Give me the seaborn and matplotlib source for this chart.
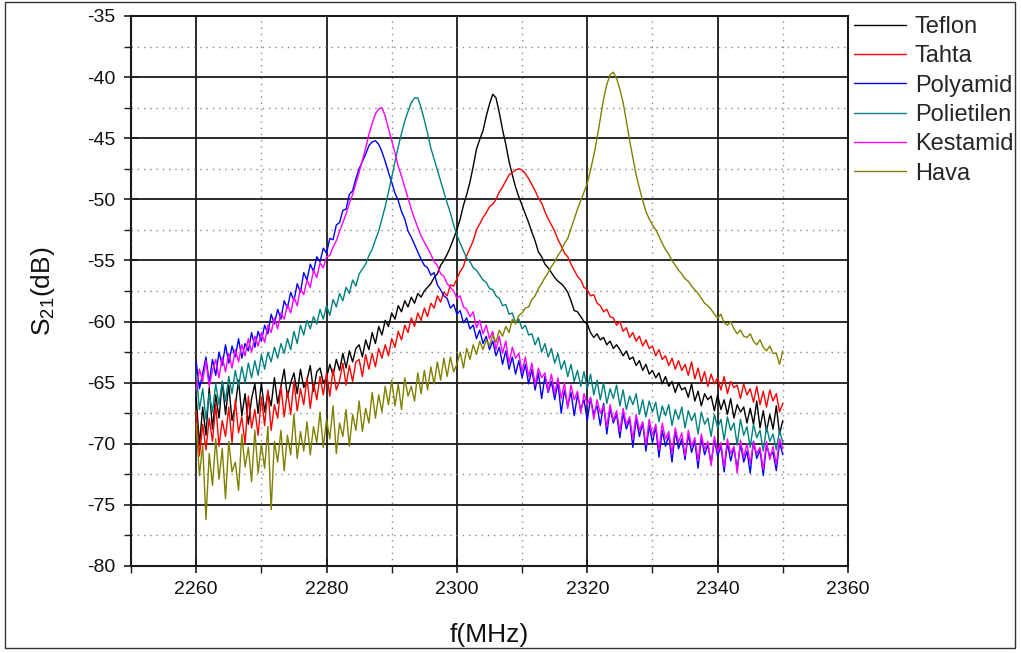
import numpy as np
import pandas as pd
import matplotlib
matplotlib.use("Agg")
import matplotlib.pyplot as plt
from matplotlib.patches import Rectangle
from matplotlib.ticker import MultipleLocator
import seaborn as sns

# ---------------- data ----------------
freq = np.arange(2260.0, 2350.01, 0.5)  # MHz, sampling grid

teflon = [
    -66.2, -70.1, -67.0, -69.3, -65.4, -68.8, -66.0, -67.9, -64.9, -67.6,
    -65.2, -68.1, -66.9, -64.8, -67.7, -65.9, -68.4, -66.3, -65.1, -67.5,
    -65.0, -67.4, -65.8, -66.9, -64.6, -66.7, -65.3, -63.9, -66.2, -65.0,
    -64.2, -65.9, -63.9, -65.4, -64.8, -63.6, -65.7, -64.1, -63.8, -65.0,
    -64.6, -63.5, -64.4, -63.1, -64.0, -62.6, -63.8, -62.4, -63.3, -62.2,
    -61.9, -62.9, -61.5, -62.3, -60.9, -61.8, -60.4, -61.1, -59.9, -60.4,
    -59.3, -59.8, -58.7, -59.2, -58.3, -58.8, -58.0, -58.5, -57.7, -58.0,
    -57.5, -57.2, -56.9, -56.4, -56.1, -55.4, -55.0, -54.5, -53.9, -53.2,
    -52.5, -51.6, -50.5, -49.6, -48.6, -47.3, -45.9, -45.1, -44.4, -43.2,
    -42.2, -41.4, -41.7, -42.9, -44.3, -45.5, -46.9, -48.0, -49.0, -49.8,
    -50.5, -51.2, -51.9, -52.7, -53.4, -54.3, -54.7, -55.3, -55.6, -56.0,
    -56.4, -56.7, -56.9, -57.2, -57.6, -58.3, -59.1, -59.2, -59.6, -60.0,
    -60.2, -60.9, -61.3, -61.0, -61.5, -61.3, -61.9, -61.6, -62.2, -61.9,
    -62.3, -62.8, -62.4, -63.1, -62.9, -63.6, -63.2, -64.0, -63.5, -64.3,
    -64.0, -64.6, -64.2, -65.1, -64.5, -65.3, -64.9, -65.8, -65.0, -65.6,
    -65.4, -66.2, -65.1, -66.5, -65.7, -66.9, -65.9, -66.4, -66.1, -67.3,
    -66.0, -67.2, -66.4, -67.6, -66.3, -67.9, -66.8, -67.4, -67.0, -68.3,
    -67.1, -68.4, -66.5, -68.7, -67.3, -69.0, -67.6, -68.8, -66.9, -69.2,
    -68.1,
]

tahta = [
    -67.3, -71.0, -68.4, -70.5, -67.9, -69.8, -66.8, -70.2, -68.1, -69.4,
    -67.0, -69.9, -66.4, -69.1, -67.8, -70.0, -66.1, -68.7, -67.2, -69.3,
    -66.2, -68.5, -65.6, -68.9, -66.8, -67.9, -65.3, -67.8, -65.7, -67.6,
    -64.9, -67.3, -65.5, -66.8, -64.6, -67.1, -65.0, -66.4, -64.5, -66.0,
    -64.2, -66.1, -63.9, -65.6, -64.8, -63.4, -65.2, -63.6, -64.9, -63.3,
    -63.1, -64.5, -62.7, -63.9, -62.6, -63.7, -62.2, -63.0, -61.9, -62.8,
    -61.4, -62.1, -60.8, -61.5, -60.3, -60.9, -59.7, -60.4, -59.3, -59.9,
    -58.9, -59.6, -58.5, -58.9, -57.9, -58.4, -57.6, -57.9, -57.0, -57.1,
    -56.5, -55.9, -55.5, -54.6, -54.0, -53.4, -52.5, -52.0, -51.5, -51.1,
    -50.6, -50.4, -50.0, -49.4, -49.0, -48.5, -48.0, -47.8, -47.6, -47.5,
    -47.6, -47.9, -48.3, -48.8, -49.3, -49.9, -50.3, -51.0, -51.6, -52.1,
    -52.6, -53.3, -53.8, -54.4, -54.7, -55.3, -55.8, -56.3, -56.6, -57.2,
    -57.4, -57.9, -57.8, -58.5, -58.7, -59.2, -59.0, -59.6, -59.7, -60.3,
    -60.0, -60.8, -60.5, -61.3, -60.9, -61.6, -61.2, -62.0, -61.5, -62.2,
    -62.0, -62.8, -62.3, -63.1, -62.8, -63.6, -63.0, -63.9, -63.2, -64.0,
    -63.5, -64.4, -63.3, -64.7, -63.8, -65.0, -64.1, -65.3, -64.3, -65.1,
    -64.6, -65.6, -64.5, -65.9, -64.9, -65.4, -65.2, -66.3, -65.1, -66.0,
    -65.5, -66.6, -65.3, -66.8, -65.7, -67.0, -65.6, -66.5, -65.9, -67.4,
    -66.7,
]

polyamid = [
    -63.3, -65.5, -64.2, -62.9, -65.0, -63.1, -64.4, -62.5, -63.6, -61.9,
    -63.4, -62.0, -62.9, -61.4, -63.0, -61.8, -62.4, -60.9, -62.1, -60.8,
    -61.6, -60.3, -61.0, -59.4, -60.2, -59.0, -59.8, -58.3, -58.9, -57.6,
    -58.3, -56.9, -57.6, -56.0, -56.6, -55.3, -55.9, -54.7, -55.1, -54.0,
    -54.4, -53.2, -53.3, -52.1, -51.9, -50.9, -50.8, -49.6, -49.3, -48.3,
    -47.5, -46.9, -46.3, -45.6, -45.3, -45.2, -45.5, -46.1, -46.9, -47.8,
    -48.6, -49.5, -50.1, -51.0, -51.6, -52.6, -53.1, -53.7, -54.3, -54.9,
    -55.4, -55.6, -56.2, -56.0, -57.0, -57.4, -57.9, -58.1, -58.9, -58.6,
    -59.4, -59.1, -60.1, -59.7, -60.6, -60.3, -61.4, -60.7, -61.8, -61.2,
    -62.3, -61.6, -62.8, -62.1, -63.5, -62.4, -63.9, -62.9, -64.3, -63.2,
    -64.6, -63.5, -65.1, -63.9, -65.6, -64.2, -66.3, -64.5, -65.8, -64.9,
    -66.4, -65.0, -67.5, -65.6, -66.9, -65.8, -67.7, -66.0, -67.2, -66.4,
    -68.1, -66.3, -67.6, -66.9, -68.5, -66.7, -69.2, -67.1, -68.3, -67.6,
    -69.5, -67.5, -68.8, -68.0, -70.3, -67.9, -69.4, -68.3, -70.6, -68.5,
    -69.9, -68.6, -71.1, -68.9, -70.2, -69.3, -71.5, -69.0, -70.4, -69.6,
    -71.3, -69.2, -70.7, -69.8, -72.0, -69.5, -70.9, -70.1, -71.6, -69.7,
    -71.0, -70.2, -72.3, -69.9, -71.4, -70.3, -72.1, -70.0, -71.5, -70.6,
    -72.4, -69.8, -71.2, -70.5, -72.6, -70.1, -71.0, -70.7, -72.2, -69.9,
    -70.9,
]

polietilen = [
    -64.3, -67.2, -65.5, -68.0, -65.9, -67.4, -65.1, -66.8, -64.9, -66.5,
    -64.5, -65.9, -64.0, -65.3, -63.7, -65.0, -63.4, -64.6, -63.2, -64.4,
    -62.7, -63.9, -62.5, -63.3, -62.1, -63.0, -61.8, -62.6, -61.4, -62.3,
    -60.8, -61.8, -60.3, -61.1, -59.9, -60.6, -59.6, -60.2, -59.0, -59.8,
    -58.7, -59.5, -58.2, -58.8, -57.7, -58.3, -57.2, -57.7, -56.6, -57.1,
    -56.1, -55.7, -55.3, -54.6, -54.1, -53.3, -52.6, -51.6, -50.6, -49.4,
    -48.2, -46.9, -45.7, -44.6, -43.6, -42.8, -42.1, -41.7, -41.7, -42.5,
    -43.5, -44.6, -45.8, -46.7, -47.6, -48.5, -49.4, -50.3, -51.1, -52.1,
    -52.9, -53.6, -54.2, -54.8, -55.1, -55.6, -55.8, -56.2, -56.6, -56.8,
    -57.3, -57.4, -57.9, -58.1, -58.7, -58.6, -59.4, -59.3, -60.1, -59.8,
    -60.6, -60.3, -61.1, -61.0, -61.9, -61.3, -62.5, -61.8, -62.9, -62.2,
    -63.4, -62.6, -63.9, -63.2, -64.5, -63.5, -64.9, -64.0, -65.3, -64.1,
    -65.5, -64.3, -66.0, -64.8, -66.4, -65.0, -66.7, -65.5, -66.3, -65.2,
    -66.9, -65.6, -67.2, -66.1, -66.8, -65.9, -67.6, -66.4, -67.8, -66.5,
    -67.4, -66.6, -68.2, -66.9, -67.7, -66.8, -68.5, -67.2, -68.0, -67.0,
    -68.7, -67.3, -68.1, -67.5, -69.2, -67.4, -68.4, -67.9, -69.4, -67.6,
    -68.7, -68.0, -69.7, -67.8, -68.9, -68.3, -70.1, -68.0, -69.3, -68.6,
    -70.3, -68.4, -69.5, -68.9, -70.6, -68.6, -69.8, -69.2, -70.5, -68.9,
    -69.9,
]

kestamid = [
    -65.6, -63.9, -64.9, -63.2, -65.3, -64.0, -63.1, -64.6, -62.9, -64.1,
    -62.6, -63.8, -62.3, -63.3, -61.9, -62.8, -61.4, -62.5, -61.2, -62.0,
    -60.9, -61.7, -60.3, -60.9, -59.7, -60.6, -59.3, -59.8, -58.6, -59.3,
    -58.0, -58.7, -57.3, -57.8, -56.6, -57.2, -55.8, -56.4, -55.2, -55.6,
    -54.7, -54.6, -53.9, -53.4, -52.6, -51.9, -51.2, -50.3, -49.6, -48.7,
    -47.8, -46.8, -45.8, -44.7, -43.8, -43.0, -42.6, -42.5, -43.2, -44.2,
    -45.2, -46.2, -47.3, -48.1, -49.0, -49.9, -50.8, -51.6, -52.3, -53.0,
    -53.5, -54.0, -54.5, -55.1, -55.4, -56.1, -56.3, -56.9, -57.2, -57.5,
    -58.1, -57.9, -58.8, -59.0, -59.6, -59.2, -60.5, -59.9, -61.0, -60.3,
    -61.4, -60.8, -62.3, -61.2, -62.6, -61.6, -63.4, -62.1, -63.0, -62.6,
    -64.1, -62.9, -64.5, -63.4, -65.2, -63.8, -64.6, -64.2, -65.7, -64.3,
    -65.9, -64.6, -66.3, -65.0, -67.1, -65.2, -66.4, -65.7, -67.5, -65.9,
    -66.8, -66.2, -68.0, -66.4, -67.5, -66.9, -68.6, -66.8, -68.1, -67.3,
    -69.0, -67.1, -68.4, -67.8, -69.6, -67.6, -68.9, -68.2, -70.1, -68.0,
    -69.3, -68.4, -70.5, -68.3, -69.6, -69.0, -70.8, -68.7, -69.9, -69.1,
    -71.0, -68.9, -70.2, -69.5, -71.4, -69.2, -70.5, -69.8, -71.8, -69.4,
    -70.7, -69.9, -71.9, -69.6, -70.8, -70.2, -72.4, -69.7, -71.1, -70.0,
    -71.6, -69.9, -70.8, -70.3, -72.1, -69.8, -71.3, -70.2, -71.7, -69.6,
    -70.4,
]

hava = [
    -68.3, -72.6, -70.1, -76.2, -70.8, -73.4, -69.6, -72.9, -70.4, -74.5,
    -69.8, -72.3, -71.5, -73.8, -69.2, -71.9, -70.3, -73.1, -68.9, -72.4,
    -70.0, -72.0, -68.6, -75.4, -69.8, -71.5, -68.9, -72.2, -69.3, -70.9,
    -67.6, -71.2, -69.0, -70.6, -68.2, -70.9, -68.6, -69.9, -67.4, -70.3,
    -68.0, -69.6, -66.9, -70.8, -68.3, -69.4, -67.2, -70.2, -67.6, -68.9,
    -66.5, -69.0, -67.1, -68.3, -65.8, -67.9, -66.0, -67.4, -65.3, -66.8,
    -64.8, -66.9, -65.1, -67.2, -64.6, -66.1, -65.3, -66.5, -64.2, -65.9,
    -64.0, -65.6, -63.7, -65.1, -63.3, -64.8, -63.0, -64.5, -62.9, -64.1,
    -63.5, -62.5, -63.8, -62.2, -63.1, -61.9, -62.7, -61.6, -62.3, -61.5,
    -62.0, -61.1, -61.7, -60.7, -61.2, -60.4, -60.9, -59.8, -60.2, -59.5,
    -59.3, -58.9, -58.8, -58.2, -57.9, -57.3, -56.9, -56.4, -56.0, -55.5,
    -55.1, -54.6, -54.2, -53.6, -53.2, -52.4, -51.6, -50.8, -50.1, -49.4,
    -48.7, -47.6, -46.4, -45.0, -43.4, -41.8, -40.6, -39.8, -39.6, -40.1,
    -41.0, -42.1, -43.6, -45.2, -46.6, -48.0, -49.1, -50.1, -51.0, -51.6,
    -52.1, -52.5, -53.0, -53.6, -54.1, -54.5, -55.0, -55.4, -55.8, -56.1,
    -56.5, -56.7, -57.1, -57.4, -57.7, -58.1, -58.5, -58.7, -59.0, -59.4,
    -59.7, -59.4, -60.1, -60.3, -60.0, -60.6, -61.0, -60.7, -61.2, -61.3,
    -61.0, -61.6, -61.9, -61.5, -62.1, -62.4, -62.0, -62.6, -62.6, -63.5,
    -62.4,
]

materials = ["Teflon", "Tahta", "Polyamid", "Polietilen", "Kestamid", "Hava"]
colors = ["#000000", "#FF0000", "#0000FF", "#008080", "#FF00FF", "#808000"]
series = [teflon, tahta, polyamid, polietilen, kestamid, hava]

x_ticks = [2260, 2280, 2300, 2320, 2340, 2360]
y_ticks = [-80, -75, -70, -65, -60, -55, -50, -45, -40, -35]

# ---------------- long-form table ----------------
frames = []
for name, vals in zip(materials, series):
    assert len(vals) == len(freq), (name, len(vals))
    frames.append(pd.DataFrame({"f": freq, "S21": vals, "Material": name}))
df = pd.concat(frames, ignore_index=True)

# ---------------- style ----------------
sns.set_theme(style="white")
plt.rcParams["font.family"] = ["Liberation Sans", "DejaVu Sans"]
plt.rcParams["mathtext.default"] = "regular"
plt.rcParams["axes.unicode_minus"] = False

fig = plt.figure(figsize=(10.21, 6.53), dpi=100)
ax = fig.add_axes([131 / 1021, 1 - 566 / 653, (848 - 131) / 1021, (566 - 16) / 653])

sns.lineplot(data=df, x="f", y="S21", hue="Material", hue_order=materials,
             palette=dict(zip(materials, colors)), sort=False, errorbar=None,
             linewidth=1.0, ax=ax, legend=True)

ax.set_xlim(2250, 2360)
ax.set_ylim(-80, -35)
ax.set_xticks(x_ticks)
ax.set_yticks(y_ticks)
ax.xaxis.set_minor_locator(MultipleLocator(10))
ax.yaxis.set_minor_locator(MultipleLocator(2.5))

ax.grid(True, which="major", color="#1a1a1a", linewidth=1.3, linestyle="-")
ax.grid(True, which="minor", color="#8a8a8a", linewidth=1.0, linestyle=(0, (1, 3.5)))
ax.set_axisbelow(True)

for sp in ax.spines.values():
    sp.set_visible(True)
    sp.set_color("#1a1a1a")
    sp.set_linewidth(1.5)

ax.tick_params(axis="both", which="major", direction="inout", length=10, width=1.2,
               color="#1a1a1a", labelsize=14, labelcolor="#111111", pad=6)
ax.tick_params(axis="both", which="minor", direction="out", length=5, width=1.0,
               color="#1a1a1a")
ax.tick_params(axis="x", which="both", bottom=True, top=False)
ax.tick_params(axis="y", which="both", left=True, right=False)

ax.set_xlabel("f(MHz)", fontsize=19, labelpad=18, color="#111111")
ax.set_ylabel("S$_{21}$(dB)", fontsize=19, labelpad=22, color="#111111")

handles, labels = ax.get_legend_handles_labels()
ax.legend(handles, labels, loc="upper left", bbox_to_anchor=(1.009, 1.0),
          frameon=False, fontsize=17, handlelength=2.2, handletextpad=0.35,
          labelspacing=0.31, borderpad=0.0, borderaxespad=0.0)

# outer frame of the picture
fig.patches.append(Rectangle((5 / 1021, 5 / 653), 1010 / 1021, 646 / 653,
                             transform=fig.transFigure, fill=False,
                             edgecolor="#333333", linewidth=1.0))

fig.savefig("out.png", dpi=100)
